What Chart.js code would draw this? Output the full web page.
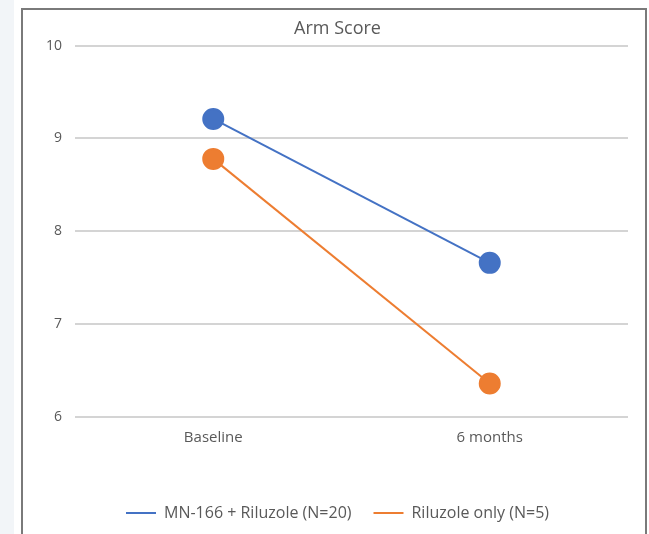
<!DOCTYPE html>
<html>
<head>
<meta charset="utf-8">
<script src="https://cdn.jsdelivr.net/npm/chart.js@4"></script>
<style>
  html, body { margin: 0; padding: 0; background: #fff; overflow: hidden; }
  .strip { position: absolute; left: 0; top: 0; width: 14px; height: 534px; background: #f2f5f8; }
  .frame {
    position: absolute; left: 21px; top: 8px; width: 622px; height: 540px;
    border: 2px solid #7a7a7a; border-bottom: none; background: #fff;
  }
  .frame canvas { display: block; }
</style>
</head>
<body>
<div class="strip"></div>
<div class="frame">
  <canvas id="chart" width="622" height="526"></canvas>
</div>
<script>
// data
const timepoints = ["Baseline", "6 months"];
const seriesNames = ["MN-166 + Riluzole (N=20)", "Riluzole only (N=5)"];
const comboScores = [9.21, 7.66];
const riluzoleScores = [8.78, 6.36];
const yTicks = [6, 7, 8, 9, 10];

const blue = "#4472C4",
      orange = "#ED7D31",
      textGray = "#595959";

Chart.defaults.font.family = "'Open Sans', 'Liberation Sans', sans-serif";
Chart.defaults.color = textGray;

const ctx = document.getElementById("chart").getContext("2d");
new Chart(ctx, {
    type: "line",
    data: {
        labels: timepoints,
        datasets: [
            {
                label: seriesNames[0],
                data: comboScores,
                borderColor: blue,
                backgroundColor: blue,
                borderWidth: 2,
                pointRadius: 10,
                pointBackgroundColor: blue,
                pointBorderColor: blue
            },
            {
                label: seriesNames[1],
                data: riluzoleScores,
                borderColor: orange,
                backgroundColor: orange,
                borderWidth: 2,
                pointRadius: 10,
                pointBackgroundColor: orange,
                pointBorderColor: orange
            }
        ]
    },
    options: {
        responsive: false,
        animation: false,
        layout: { padding: { left: 24, right: 17, top: 0, bottom: 5 } },
        plugins: {
            title: {
                display: true,
                text: "Arm Score",
                color: textGray,
                font: { size: 18, weight: "normal" },
                padding: { top: 8, bottom: 6 }
            },
            legend: {
                position: "bottom",
                labels: {
                    usePointStyle: true,
                    pointStyle: "line",
                    pointStyleWidth: 30,
                    padding: 22,
                    color: textGray,
                    font: { size: 16 }
                }
            },
            tooltip: { enabled: false }
        },
        scales: {
            x: {
                offset: true,
                grid: { display: false, drawTicks: false },
                border: { display: false },
                ticks: { padding: 12, font: { size: 15 } },
                afterFit: s => { s.height = 66; }
            },
            y: {
                min: 6,
                max: 10,
                afterBuildTicks: s => { s.ticks = yTicks.map(v => ({ value: v })); },
                grid: { color: "#d4d4d4", lineWidth: 2, drawTicks: false },
                border: { display: false },
                ticks: { padding: 13, font: { size: 14 } },
                afterFit: s => { s.width = 28; }
            }
        }
    }
});
</script>
</body>
</html>
